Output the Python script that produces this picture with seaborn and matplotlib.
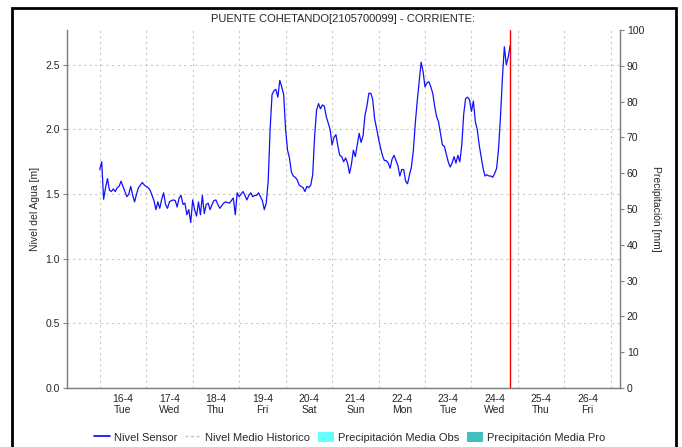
import matplotlib
matplotlib.use("Agg")
import matplotlib.pyplot as plt
import seaborn as sns
import pandas as pd
import numpy as np
from matplotlib.lines import Line2D
from matplotlib.patches import Patch, Rectangle

# hourly water level [m], starting 16-4 00:00
nivel = [
    1.69, 1.75, 1.46, 1.55, 1.62, 1.53, 1.52, 1.54, 1.52, 1.55, 1.56, 1.60,
    1.56, 1.52, 1.48, 1.50, 1.56, 1.49, 1.44, 1.50, 1.55, 1.57, 1.59, 1.57,
    1.56, 1.55, 1.53, 1.49, 1.45, 1.38, 1.44, 1.39, 1.46, 1.51, 1.42, 1.39,
    1.44, 1.45, 1.455, 1.45, 1.40, 1.47, 1.49, 1.42, 1.43, 1.34, 1.38, 1.28,
    1.455, 1.38, 1.33, 1.44, 1.34, 1.49, 1.35, 1.42, 1.43, 1.38, 1.42, 1.45,
    1.455, 1.42, 1.39, 1.41, 1.43, 1.44, 1.435, 1.43, 1.45, 1.47, 1.34, 1.51,
    1.48, 1.50, 1.52, 1.49, 1.455, 1.49, 1.51, 1.48, 1.49, 1.49, 1.51, 1.48,
    1.45, 1.38, 1.43, 1.60, 2.00, 2.27, 2.30, 2.31, 2.25, 2.38, 2.33, 2.27,
    2.00, 1.84, 1.78, 1.67, 1.64, 1.63, 1.61, 1.57, 1.56, 1.55, 1.52, 1.56,
    1.55, 1.57, 1.65, 1.95, 2.15, 2.20, 2.16, 2.19, 2.18, 2.10, 2.05, 2.00,
    1.88, 1.94, 1.96, 1.87, 1.80, 1.79, 1.75, 1.78, 1.74, 1.66, 1.73, 1.84,
    1.79, 1.88, 1.97, 1.90, 1.95, 2.11, 2.18, 2.28, 2.28, 2.23, 2.08, 2.01,
    1.93, 1.86, 1.80, 1.76, 1.76, 1.74, 1.70, 1.77, 1.80, 1.76, 1.72, 1.64,
    1.69, 1.69, 1.60, 1.58, 1.65, 1.71, 1.84, 2.05, 2.22, 2.37, 2.52, 2.45,
    2.33, 2.36, 2.37, 2.33, 2.28, 2.18, 2.10, 2.06, 1.97, 1.88, 1.87, 1.81,
    1.75, 1.71, 1.74, 1.79, 1.74, 1.80, 1.75, 1.88, 2.12, 2.24, 2.25, 2.23,
    2.14, 2.22, 2.06, 2.00, 1.88, 1.79, 1.70, 1.64, 1.65, 1.64, 1.64, 1.63,
    1.66, 1.70, 1.85, 2.10, 2.40, 2.64, 2.50, 2.56, 2.65,
]
horas = list(range(len(nivel)))

dias = ["16-4", "17-4", "18-4", "19-4", "20-4", "21-4", "22-4", "23-4", "24-4", "25-4", "26-4"]
semana = ["Tue", "Wed", "Thu", "Fri", "Sat", "Sun", "Mon", "Tue", "Wed", "Thu", "Fri"]
hora_actual = 212

df = pd.DataFrame({"hora": horas, "nivel": nivel})

sns.set_style("white")
plt.rcParams["font.family"] = ["Liberation Sans", "DejaVu Sans"]

fig = plt.figure(figsize=(6.82, 4.47), dpi=100)
ax = fig.add_axes([0.098, 0.132, 0.811, 0.801])

sns.lineplot(data=df, x="hora", y="nivel", ax=ax, color="#1010ff", linewidth=0.9)
ax.axvline(hora_actual, color="#ff0000", linewidth=1)

ax.set_xlim(-17, 268.7)
ax.set_ylim(0, 2.77)
ax.set_yticks([0, 0.5, 1.0, 1.5, 2.0, 2.5])
ax.set_yticklabels(["0.0", "0.5", "1.0", "1.5", "2.0", "2.5"])

# grid at midnight, labels at noon
ax.set_xticks([24 * i for i in range(12)])
ax.set_xticklabels([])
ax.set_xticks([24 * i + 12 for i in range(len(dias))], minor=True)
ax.set_xticklabels([d + "\n" + s for d, s in zip(dias, semana)], minor=True)
ax.tick_params(axis="x", which="both", length=0, labelsize=7.5, pad=4)
ax.tick_params(axis="y", length=3, labelsize=7.5, pad=2, left=True, color="#808080")
ax.grid(True, which="major", color="#c8c8c8", linestyle=(0, (2, 3)), linewidth=0.8)
ax.set_xlabel("")
ax.set_ylabel("Nivel del Agua [m]", fontsize=7.5, labelpad=4)
ax.set_title("PUENTE COHETANDO[2105700099] - CORRIENTE:", fontsize=8, pad=6)

for s in ax.spines.values():
    s.set_color("#808080")
    s.set_linewidth(1)
ax.spines["top"].set_visible(False)

ax2 = ax.twinx()
ax2.set_ylim(0, 100)
ax2.set_yticks(range(0, 101, 10))
ax2.tick_params(axis="y", length=3, labelsize=7.5, pad=2, color="#808080")
ax2.set_ylabel("Precipitación [mm]", fontsize=7.5, rotation=-90, labelpad=12)
for s in ax2.spines.values():
    s.set_color("#808080")
ax2.spines["top"].set_visible(False)

handles = [
    Line2D([], [], color="#0000ff", linewidth=1.2),
    Line2D([], [], color="#c0c0c0", linewidth=1, linestyle=(0, (2, 2))),
    Patch(facecolor="#66ffff", edgecolor="none"),
    Patch(facecolor="#40c0c0", edgecolor="none"),
]
labels = ["Nivel Sensor", "Nivel Medio Historico", "Precipitación Media Obs", "Precipitación Media Pro"]
fig.legend(handles, labels, loc="center", bbox_to_anchor=(0.512, 0.022), ncol=4,
           frameon=False, fontsize=8, handlelength=1.5, handletextpad=0.3,
           columnspacing=0.7, handleheight=1.0)

fig.patches.append(Rectangle((0.018, -0.02), 0.973, 1.002, transform=fig.transFigure,
                             fill=False, edgecolor="black", linewidth=2))

fig.savefig("out.png", dpi=100)
